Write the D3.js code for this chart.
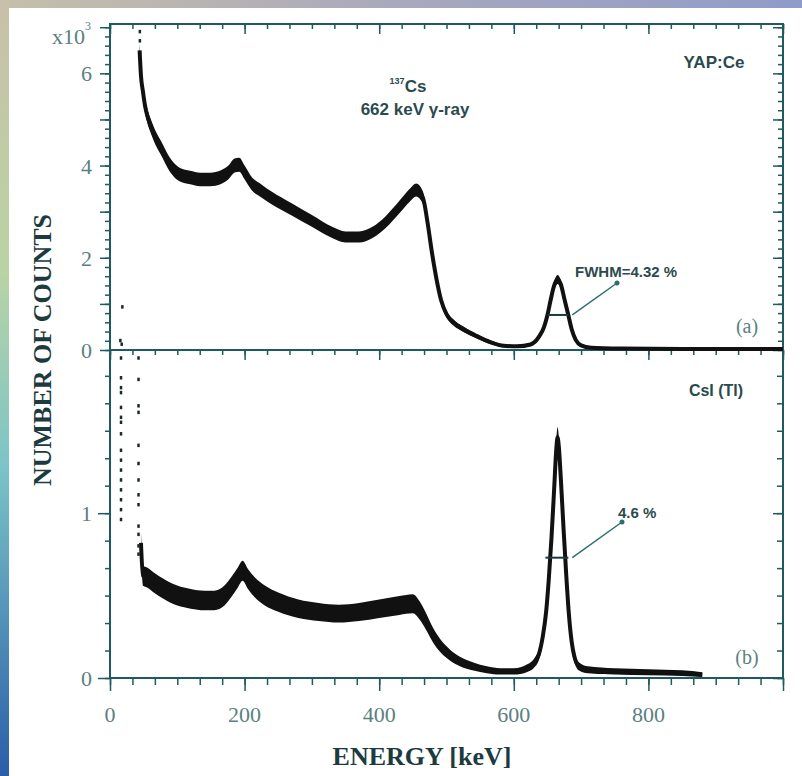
<!DOCTYPE html>
<html>
<head>
<meta charset="utf-8">
<script src="https://cdn.jsdelivr.net/npm/d3@7"></script>
<style>
  body { margin: 0; background: #fff; }
  svg { display: block; }
</style>
</head>
<body>
<script>
// (a) YAP:Ce spectrum, counts in units of 10^3
var energyA = [44, 46, 49, 52, 56, 60, 67, 75, 89, 104, 119, 134, 149, 165, 176, 185, 192, 200, 210, 225, 240, 270, 300, 330, 350, 370, 390, 410, 430, 445, 455, 465, 472, 478, 485, 492, 500, 510, 525, 545, 565, 585, 605, 625, 638, 645, 650, 655, 660, 665, 670, 675, 681, 686, 692, 700, 715, 760, 850, 1000];
var countsA = [6.5, 5.95, 5.6, 5.3, 5.05, 4.88, 4.62, 4.4, 4.02, 3.8, 3.74, 3.7, 3.7, 3.75, 3.85, 4.0, 4.02, 3.85, 3.62, 3.45, 3.3, 3.05, 2.8, 2.55, 2.45, 2.45, 2.55, 2.78, 3.1, 3.35, 3.47, 3.3, 2.75, 2.15, 1.55, 1.08, 0.78, 0.6, 0.45, 0.3, 0.17, 0.09, 0.08, 0.12, 0.3, 0.5, 0.76, 1.1, 1.4, 1.53, 1.42, 1.12, 0.76, 0.45, 0.22, 0.1, 0.05, 0.03, 0.02, 0.02];
var noiseEA = [15, 17, 18, 44, 44];
var noiseCA = [0.2, 0.12, 0.93, 6.9, 6.7];

// (b) CsI(Tl) spectrum
var energyB = [46, 49, 55, 65, 80, 100, 120, 140, 155, 170, 180, 190, 197, 205, 215, 230, 250, 280, 310, 340, 370, 400, 430, 450, 460, 470, 480, 490, 505, 520, 540, 560, 580, 600, 620, 630, 637, 643, 648, 652, 656, 660, 663, 665, 667, 670, 674, 678, 682, 686, 690, 697, 710, 750, 800, 850, 880];
var countsB = [0.82, 0.62, 0.61, 0.58, 0.54, 0.5, 0.48, 0.47, 0.47, 0.5, 0.55, 0.61, 0.65, 0.6, 0.55, 0.5, 0.46, 0.42, 0.4, 0.39, 0.4, 0.42, 0.44, 0.45, 0.41, 0.34, 0.26, 0.2, 0.14, 0.1, 0.07, 0.05, 0.04, 0.04, 0.06, 0.09, 0.14, 0.25, 0.4, 0.6, 0.85, 1.15, 1.38, 1.46, 1.4, 1.2, 0.9, 0.62, 0.38, 0.22, 0.13, 0.07, 0.05, 0.04, 0.035, 0.03, 0.02];
var noiseEB = [16, 16, 16, 16, 16, 16, 16, 16, 16, 16, 16, 16, 16, 16, 16, 16, 42, 42, 42, 42, 42, 42, 42, 42, 42, 42, 42, 42, 42];
var noiseCB = [1.94, 1.82, 1.76, 1.73, 1.64, 1.58, 1.55, 1.48, 1.38, 1.32, 1.26, 1.2, 1.14, 1.08, 1.02, 0.96, 1.94, 1.81, 1.65, 1.61, 1.41, 1.3, 1.2, 1.11, 1.05, 0.92, 0.87, 0.8, 0.75];

var xTicks = [0, 200, 400, 600, 800];
var yTicksA = [0, 2, 4, 6];
var yTicksB = [0, 1];

// FWHM marks: [low keV, high keV, level]
var fwhmA = [650, 681, 0.76];
var fwhmB = [647, 681, 0.73];

var W = 802, H = 776;
var axisColor = "#1f5a60", labelColor = "#5b7f82", textColor = "#2b4a4e";

var svg = d3.select("body").append("svg").attr("width", W).attr("height", H);

// background strips
var defs = svg.append("defs");
var gl = defs.append("linearGradient").attr("id", "lg").attr("x1", 0).attr("y1", 0).attr("x2", 0).attr("y2", 1);
gl.append("stop").attr("offset", "0%").attr("stop-color", "#c9c0a9");
gl.append("stop").attr("offset", "35%").attr("stop-color", "#b9d4a4");
gl.append("stop").attr("offset", "60%").attr("stop-color", "#7cc4c8");
gl.append("stop").attr("offset", "100%").attr("stop-color", "#2a5ea8");
var gt = defs.append("linearGradient").attr("id", "tg").attr("x1", 0).attr("y1", 0).attr("x2", 1).attr("y2", 0);
gt.append("stop").attr("offset", "0%").attr("stop-color", "#c6bfa9");
gt.append("stop").attr("offset", "50%").attr("stop-color", "#a9a8bd");
gt.append("stop").attr("offset", "100%").attr("stop-color", "#8f9cc9");
svg.append("rect").attr("width", W).attr("height", 8).attr("fill", "url(#tg)");
svg.append("rect").attr("width", 9).attr("height", H).attr("fill", "url(#lg)");

var x = d3.scaleLinear().domain([0, 1000]).range([110, 783]);
var yA = d3.scaleLinear().domain([0, 7.07]).range([350, 24]);
var yB = d3.scaleLinear().domain([0, 1.99]).range([678, 350]);

var minorX = d3.range(0, 1001, 200 / 6);

function tickAxis(g, axis) {
  g.call(axis);
  g.select(".domain").remove();
  g.selectAll("line").attr("stroke", axisColor).attr("stroke-width", 1.5);
  g.selectAll("text").remove();
}

// x ticks: top frame, shared middle line, bottom
[24, 350, 678].forEach(function (p) {
  svg.append("g").attr("transform", "translate(0," + p + ")")
    .call(tickAxis, d3.axisBottom(x).tickValues(minorX).tickSize(p === 678 ? 7 : 5));
  svg.append("g").attr("transform", "translate(0," + p + ")")
    .call(tickAxis, d3.axisBottom(x).tickValues(d3.range(0, 1001, 200)).tickSize(p === 678 ? 13 : 10));
});

// y ticks panel (a)
svg.append("g").attr("transform", "translate(110,0)")
  .call(tickAxis, d3.axisLeft(yA).tickValues(d3.range(0, 7.01, 0.2)).tickSize(5));
svg.append("g").attr("transform", "translate(110,0)")
  .call(tickAxis, d3.axisLeft(yA).tickValues(d3.range(0, 7.01, 1)).tickSize(10));
svg.append("g").attr("transform", "translate(783,0)")
  .call(tickAxis, d3.axisLeft(yA).tickValues(d3.range(0, 7.01, 0.2)).tickSize(5));
svg.append("g").attr("transform", "translate(783,0)")
  .call(tickAxis, d3.axisLeft(yA).tickValues(d3.range(0, 7.01, 1)).tickSize(10));

// y ticks panel (b)
svg.append("g").attr("transform", "translate(110,0)")
  .call(tickAxis, d3.axisLeft(yB).tickValues(d3.range(0, 1.99, 1 / 6)).tickSize(5));
svg.append("g").attr("transform", "translate(110,0)")
  .call(tickAxis, d3.axisLeft(yB).tickValues(yTicksB).tickSize(12));
svg.append("g").attr("transform", "translate(783,0)")
  .call(tickAxis, d3.axisLeft(yB).tickValues(d3.range(0, 1.99, 1 / 6)).tickSize(6));
svg.append("g").attr("transform", "translate(783,0)")
  .call(tickAxis, d3.axisLeft(yB).tickValues(yTicksB).tickSize(10));

// frame lines
var frame = svg.append("g").attr("stroke", axisColor).attr("stroke-width", 2).attr("fill", "none");
frame.append("rect").attr("x", 110).attr("y", 24).attr("width", 673).attr("height", 654);
frame.append("line").attr("x1", 110).attr("x2", 783).attr("y1", 350).attr("y2", 350);

// tick labels
var serif = "'Liberation Serif', 'DejaVu Serif', serif";
svg.append("g").selectAll("text").data(xTicks).enter().append("text")
  .attr("x", function (d) { return x(d); }).attr("y", 722)
  .attr("text-anchor", "middle").attr("font-family", serif).attr("font-size", 22)
  .attr("fill", labelColor).text(function (d) { return d; });
svg.append("g").selectAll("text").data(yTicksA).enter().append("text")
  .attr("x", 92).attr("y", function (d) { return yA(d) + 8; })
  .attr("text-anchor", "end").attr("font-family", serif).attr("font-size", 22)
  .attr("fill", labelColor).text(function (d) { return d; });
svg.append("g").selectAll("text").data(yTicksB).enter().append("text")
  .attr("x", 92).attr("y", function (d) { return yB(d) + 8; })
  .attr("text-anchor", "end").attr("font-family", serif).attr("font-size", 22)
  .attr("fill", labelColor).text(function (d) { return d; });

var mult = svg.append("text").attr("x", 52).attr("y", 44).attr("font-family", serif)
  .attr("font-size", 22).attr("fill", labelColor);
mult.append("tspan").text("x10");
mult.append("tspan").attr("font-size", 12).attr("dy", -14).text("3");

// axis titles
svg.append("text").attr("x", 422).attr("y", 765).attr("text-anchor", "middle")
  .attr("font-family", serif).attr("font-weight", "bold").attr("font-size", 26)
  .attr("fill", "#1c3b3f").text("ENERGY [keV]");
svg.append("text").attr("transform", "translate(51,350) rotate(-90)").attr("text-anchor", "middle")
  .attr("font-family", serif).attr("font-weight", "bold").attr("font-size", 26)
  .attr("fill", "#1c3b3f").text("NUMBER OF COUNTS");

// spectra: a band whose half-height follows the counting noise, plus a core line
var hwA = d3.scaleSqrt().domain([0, 4]).range([0.5, 7]).clamp(true);
var hwB = d3.scaleSqrt().domain([0, 0.5]).range([0.5, 10]).clamp(true);

function spectrum(E, C, y, hw, core) {
  var band = d3.area().x(function (d, i) { return x(E[i]); })
    .y0(function (d) { return y(d) + hw(d); })
    .y1(function (d) { return y(d) - hw(d); })
    .curve(d3.curveMonotoneX);
  var line = d3.line().x(function (d, i) { return x(E[i]); }).y(function (d) { return y(d); })
    .curve(d3.curveMonotoneX);
  svg.append("path").datum(C).attr("d", band).attr("fill", "#111");
  svg.append("path").datum(C).attr("d", line).attr("fill", "none").attr("stroke", "#111")
    .attr("stroke-width", core).attr("stroke-linejoin", "round");
}
spectrum(energyA, countsA, yA, hwA, 4);
spectrum(energyB, countsB, yB, hwB, 4);

svg.append("g").selectAll("rect").data(noiseCA).enter().append("rect")
  .attr("x", function (d, i) { return x(noiseEA[i]) - 1; }).attr("y", function (d) { return yA(d) - 2; })
  .attr("width", 2.5).attr("height", 3.5).attr("fill", "#1a2a2c");
svg.append("g").selectAll("rect").data(noiseCB).enter().append("rect")
  .attr("x", function (d, i) { return x(noiseEB[i]) - 1; }).attr("y", function (d) { return yB(d) - 2; })
  .attr("width", 2.5).attr("height", 3.5).attr("fill", "#1a2a2c");

// FWHM bars and arrows
function fwhm(f, y, tx, ty) {
  svg.append("line").attr("x1", x(f[0])).attr("x2", x(f[1])).attr("y1", y(f[2])).attr("y2", y(f[2]))
    .attr("stroke", "#1a3a3c").attr("stroke-width", 2);
  svg.append("line").attr("x1", x(f[1]) + 4).attr("y1", y(f[2])).attr("x2", tx).attr("y2", ty)
    .attr("stroke", "#2e6e72").attr("stroke-width", 1.5);
  svg.append("circle").attr("cx", tx).attr("cy", ty).attr("r", 2.5).attr("fill", "#2e6e72");
}
fwhm(fwhmA, yA, 617, 283);
fwhm(fwhmB, yB, 622, 522);

var sans = "'Liberation Sans', Arial, sans-serif";
function label(t, px, py, size, anchor) {
  return svg.append("text").attr("x", px).attr("y", py).attr("text-anchor", anchor || "middle")
    .attr("font-family", sans).attr("font-weight", "bold").attr("font-size", size)
    .attr("fill", textColor).text(t);
}
label("FWHM=4.32 %", 575, 277, 15, "start");
label("4.6 %", 618, 518, 15, "start");
label("YAP:Ce", 714, 68, 17);
label("CsI (Tl)", 716, 396, 16);
var cs = svg.append("text").attr("x", 408).attr("y", 92).attr("text-anchor", "middle")
  .attr("font-family", sans).attr("font-weight", "bold").attr("font-size", 17).attr("fill", textColor);
cs.append("tspan").attr("font-size", 9).attr("dy", -8).text("137");
cs.append("tspan").attr("dy", 8).text("Cs");
label("662 keV \u03b3-ray", 415, 115, 17);

svg.append("text").attr("x", 747).attr("y", 333).attr("text-anchor", "middle")
  .attr("font-family", serif).attr("font-size", 20).attr("fill", labelColor).text("(a)");
svg.append("text").attr("x", 747).attr("y", 664).attr("text-anchor", "middle")
  .attr("font-family", serif).attr("font-size", 20).attr("fill", labelColor).text("(b)");
</script>
</body>
</html>
